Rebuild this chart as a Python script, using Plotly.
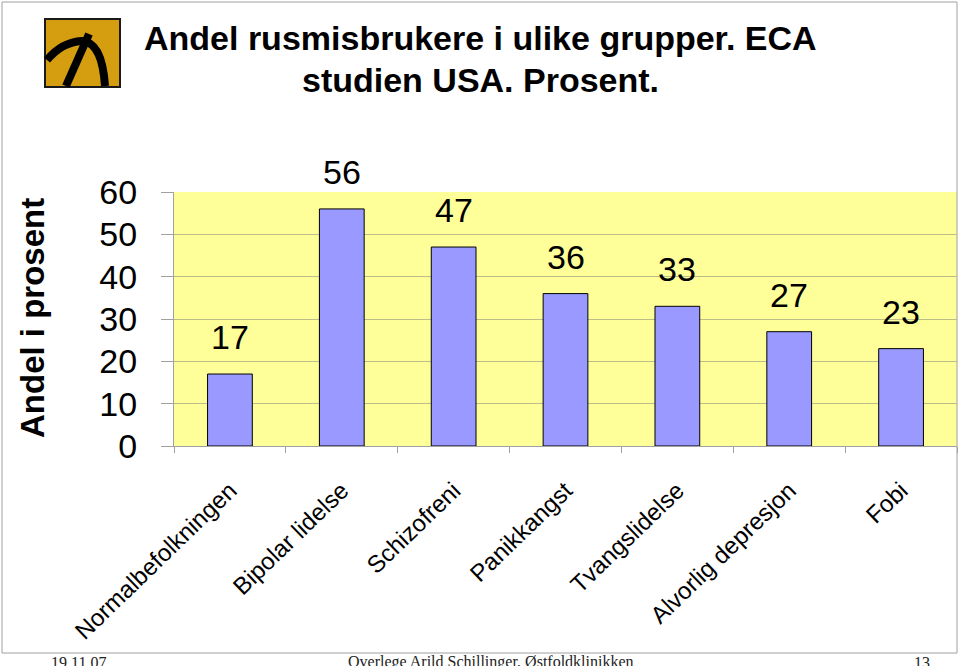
import plotly.graph_objects as go

categories = ["Normalbefolkningen", "Bipolar lidelse", "Schizofreni", "Panikkangst",
              "Tvangslidelse", "Alvorlig depresjon", "Fobi"]
values = [17, 56, 47, 36, 33, 27, 23]
y_ticks = [0, 10, 20, 30, 40, 50, 60]

title_lines = ["Andel rusmisbrukere i ulike grupper. ECA", "studien USA. Prosent."]
y_title = "Andel i prosent"
footer_left = "19.11.07"
footer_mid = "Overlege Arild Schillinger, Østfoldklinikken"
footer_right = "13"

W, H = 960, 666
L, R, T, B = 174, 3, 192, 220
PW = W - L - R
PH = H - T - B


def px(x, y):
    return (x - L) / PW, (H - B - y) / PH


fig = go.Figure()
fig.add_trace(go.Bar(
    x=categories, y=values,
    marker=dict(color="#9999FF", line=dict(color="black", width=1)),
    width=0.4, hoverinfo="skip",
))

annotations = []
for c, v in zip(categories, values):
    annotations.append(dict(
        x=c, y=v, xref="x", yref="y", text=str(v), showarrow=False,
        yanchor="bottom", yshift=16,
        font=dict(family="Liberation Sans, Arial", size=34, color="black"),
    ))

# title lines
for line, yy in zip(title_lines, [38, 80]):
    tx, ty = px(480, yy)
    annotations.append(dict(
        x=tx, y=ty, xref="paper", yref="paper", text="<b>" + line + "</b>",
        showarrow=False, xanchor="center", yanchor="middle",
        font=dict(family="Liberation Sans, Arial", size=34, color="black"),
    ))

ax, ay = px(32, 318)
annotations.append(dict(
    x=ax, y=ay, xref="paper", yref="paper", text="<b>" + y_title + "</b>",
    showarrow=False, textangle=-90, xanchor="center", yanchor="middle",
    font=dict(family="Liberation Sans, Arial", size=33, color="black"),
))

fy = px(0, 662)[1]
for txt, xx in [(footer_left, 78), (footer_mid, 491), (footer_right, 922)]:
    annotations.append(dict(
        x=px(xx, 0)[0], y=fy, xref="paper", yref="paper", text=txt,
        showarrow=False, xanchor="center", yanchor="middle",
        font=dict(family="Liberation Serif, Times New Roman", size=16, color="#222222"),
    ))

shapes = []
# slide border
x0, y0 = px(2, 2)
x1, y1 = px(957, 653)
shapes.append(dict(type="rect", xref="paper", yref="paper", x0=x0, y0=y0, x1=x1, y1=y1,
                   line=dict(color="#A0A0A0", width=1), fillcolor="rgba(0,0,0,0)", layer="below"))
# logo box
lx0, ly0 = px(45, 19)
lx1, ly1 = px(120, 87)
shapes.append(dict(type="rect", xref="paper", yref="paper", x0=lx0, y0=ly0, x1=lx1, y1=ly1,
                   line=dict(color="#1a1a1a", width=2), fillcolor="#D49E10"))


def path(points_cmd):
    out = []
    for item in points_cmd:
        if isinstance(item, str):
            out.append(item)
        else:
            a, b = px(*item)
            out.append(f"{a:.5f},{b:.5f}")
    return " ".join(out)


arc = path(["M", (47, 60), "Q", (62, 42), (82, 41), "Q", (102, 42), (105, 86)])
shapes.append(dict(type="path", xref="paper", yref="paper", path=arc,
                   line=dict(color="black", width=8)))
diag = path(["M", (89, 34), "L", (66, 86)])
shapes.append(dict(type="path", xref="paper", yref="paper", path=diag,
                   line=dict(color="black", width=8)))

fig.update_layout(
    width=W, height=H,
    margin=dict(l=L, r=R, t=T, b=B, pad=0),
    paper_bgcolor="white", plot_bgcolor="#FFFF99",
    showlegend=False,
    xaxis=dict(
        showline=True, linecolor="#A0A0A0", linewidth=1,
        ticks="outside", ticklen=6, tickcolor="#A0A0A0", tickson="boundaries",
        tickangle=-44, ticklabelstandoff=20,
        tickfont=dict(family="Liberation Sans, Arial", size=24, color="black"),
        showgrid=False, fixedrange=True,
    ),
    yaxis=dict(
        range=[0, 60], tickvals=y_ticks, ticktext=[str(t) for t in y_ticks],
        showline=True, linecolor="#A0A0A0", linewidth=1,
        ticks="outside", ticklen=12, tickcolor="#A0A0A0",
        ticklabelstandoff=17,
        tickfont=dict(family="Liberation Sans, Arial", size=34, color="black"),
        showgrid=True, gridcolor="#BDBD8A", gridwidth=1,
        zeroline=False, fixedrange=True,
    ),
    annotations=annotations, shapes=shapes,
)

fig.write_html("out.html")
